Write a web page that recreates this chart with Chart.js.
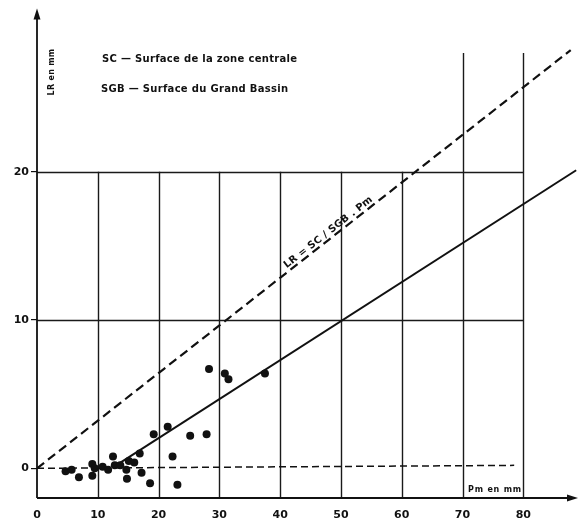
<!DOCTYPE html>
<html>
<head>
<meta charset="utf-8">
<script src="https://cdn.jsdelivr.net/npm/chart.js@4.4.1/dist/chart.umd.min.js"></script>
<style>
  html, body { margin: 0; padding: 0; background: #fff; }
  #wrap { width: 582px; height: 519px; }
</style>
</head>
<body>
<div id="wrap"><canvas id="chart" width="582" height="519"></canvas></div>
<script>
// measured points (Pm in mm, LR in mm)
const pm = [4.7, 5.7, 6.9, 9.1, 9.1, 9.5, 10.8, 11.7, 12.5, 12.8, 13.7, 14.7, 14.8, 15.1,
            16.0, 16.9, 17.2, 18.6, 19.2, 21.5, 22.3, 23.1, 25.2, 27.9, 28.3, 30.9, 31.5, 37.5];
const lr = [-0.2, -0.1, -0.6, 0.3, -0.5, 0.0, 0.1, -0.1, 0.8, 0.2, 0.2, -0.1, -0.7, 0.5,
            0.4, 1.0, -0.3, -1.0, 2.3, 2.8, 0.8, -1.1, 2.2, 2.3, 6.7, 6.4, 6.0, 6.4];

// LR = SC/SGB . Pm
const boundX = [0, 87.8];
const boundY = [0, 28.2];
// fitted line
const fitX = [13.4, 88.7];
const fitY = [0.3, 20.1];
// zero line
const zeroX = [0, 78.5];
const zeroY = [0, 0.2];

const xTicks = [0, 10, 20, 30, 40, 50, 60, 70, 80];
const yTicks = [0, 10, 20];
const gridX = [10, 20, 30, 40, 50, 60, 70, 80];
const gridXTop = [20, 20, 20, 20, 20, 20, 28, 28];
const gridY = [10, 20];

const toPts = (xs, ys) => xs.map((x, i) => ({ x, y: ys[i] }));

const ink = '#111';

const paperPlugin = {
    id: 'paper',
    beforeDatasetsDraw(chart) {
        const { ctx, scales: { x, y } } = chart;
        ctx.save();
        ctx.strokeStyle = '#1a1a1a';
        ctx.lineWidth = 1.4;
        // vertical grid segments
        gridX.forEach((v, i) => {
            const px = Math.round(x.getPixelForValue(v)) + 0.5;
            ctx.beginPath();
            ctx.moveTo(px, y.getPixelForValue(y.min));
            ctx.lineTo(px, y.getPixelForValue(gridXTop[i]));
            ctx.stroke();
        });
        // horizontal grid segments
        gridY.forEach(v => {
            const py = Math.round(y.getPixelForValue(v)) + 0.5;
            ctx.beginPath();
            ctx.moveTo(x.getPixelForValue(0), py);
            ctx.lineTo(x.getPixelForValue(80), py);
            ctx.stroke();
        });

        // axes with arrows
        const x0 = x.getPixelForValue(0);
        const yb = y.getPixelForValue(y.min);
        const yt = y.getPixelForValue(y.max);
        const xr = x.getPixelForValue(x.max);
        ctx.strokeStyle = ink;
        ctx.fillStyle = ink;
        ctx.lineWidth = 1.8;
        ctx.beginPath();
        ctx.moveTo(x0, yb);
        ctx.lineTo(x0, yt + 6);
        ctx.moveTo(x0, yb);
        ctx.lineTo(xr - 6, yb);
        ctx.stroke();
        ctx.beginPath();
        ctx.moveTo(x0, yt);
        ctx.lineTo(x0 - 3.5, yt + 11);
        ctx.lineTo(x0 + 3.5, yt + 11);
        ctx.closePath();
        ctx.fill();
        ctx.beginPath();
        ctx.moveTo(xr, yb);
        ctx.lineTo(xr - 11, yb - 3.5);
        ctx.lineTo(xr - 11, yb + 3.5);
        ctx.closePath();
        ctx.fill();
        ctx.restore();
    },
    afterDraw(chart) {
        const { ctx, scales: { x, y } } = chart;
        ctx.save();
        ctx.fillStyle = ink;
        ctx.textBaseline = 'middle';
        ctx.font = 'bold 10px "DejaVu Sans"';
        ctx.letterSpacing = '0.3px';
        ctx.fillText('SC \u2014 Surface de la zone centrale', 102, 59);
        ctx.fillText('SGB \u2014 Surface du Grand Bassin', 101, 89);

        ctx.font = 'bold 8px "DejaVu Sans"';
        ctx.letterSpacing = '0.8px';
        ctx.fillText('Pm en mm', 468, 490);

        ctx.letterSpacing = '0.3px';
        ctx.save();
        ctx.translate(52, 72);
        ctx.rotate(-Math.PI / 2);
        ctx.textAlign = 'center';
        ctx.fillText('LR en mm', 0, 0);
        ctx.restore();

        // label along the dashed bound line
        const a = x.getPixelForValue(boundX[0]), b = y.getPixelForValue(boundY[0]);
        const c = x.getPixelForValue(boundX[1]), d = y.getPixelForValue(boundY[1]);
        const ang = Math.atan2(d - b, c - a);
        const t = 0.553;
        ctx.save();
        ctx.translate(a + (c - a) * t, b + (d - b) * t);
        ctx.rotate(ang);
        ctx.textAlign = 'center';
        ctx.textBaseline = 'bottom';
        ctx.font = 'bold 10px "DejaVu Sans"';
        ctx.letterSpacing = '0.2px';
        ctx.fillText('LR = SC / SGB . Pm', 0, -1);
        ctx.restore();
        ctx.restore();
    }
};

new Chart(document.getElementById('chart'), {
    type: 'scatter',
    data: {
        datasets: [
            {
                data: toPts(pm, lr),
                pointRadius: 4,
                pointBackgroundColor: ink,
                pointBorderWidth: 0
            },
            {
                type: 'line',
                data: toPts(boundX, boundY),
                borderColor: ink,
                borderWidth: 2.2,
                borderDash: [9, 5],
                pointRadius: 0
            },
            {
                type: 'line',
                data: toPts(fitX, fitY),
                borderColor: ink,
                borderWidth: 2,
                pointRadius: 0
            },
            {
                type: 'line',
                data: toPts(zeroX, zeroY),
                borderColor: ink,
                borderWidth: 1.5,
                borderDash: [7, 4],
                pointRadius: 0
            }
        ]
    },
    options: {
        responsive: false,
        animation: false,
        layout: { padding: { top: 6, right: 2, left: 0, bottom: 0 } },
        plugins: {
            legend: { display: false },
            tooltip: { enabled: false }
        },
        scales: {
            x: {
                type: 'linear',
                min: 0,
                max: 89,
                afterBuildTicks: s => { s.ticks = xTicks.map(v => ({ value: v })); },
                afterFit: s => { s.height = 21; },
                grid: { display: false },
                border: { display: false },
                ticks: {
                    color: ink,
                    font: { family: 'DejaVu Sans', size: 11, weight: 'bold' },
                    padding: 3,
                    maxRotation: 0,
                    autoSkip: false
                }
            },
            y: {
                type: 'linear',
                min: -2,
                max: 31,
                afterBuildTicks: s => { s.ticks = yTicks.map(v => ({ value: v })); },
                afterFit: s => { s.width = 37; },
                grid: { display: true, drawOnChartArea: false, drawTicks: true, tickLength: 6, color: ink, lineWidth: 1.2 },
                border: { display: false },
                ticks: {
                    color: ink,
                    font: { family: 'DejaVu Sans', size: 11, weight: 'bold' },
                    padding: 2,
                    autoSkip: false
                }
            }
        }
    },
    plugins: [paperPlugin]
});
</script>
</body>
</html>
